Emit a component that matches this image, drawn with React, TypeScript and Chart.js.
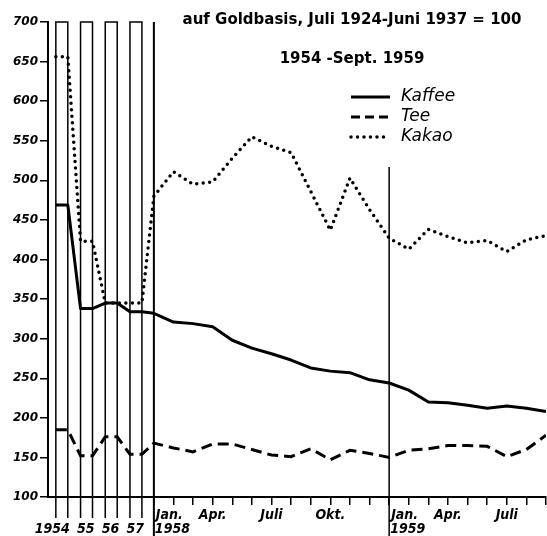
import { useEffect, useRef } from "react";
import { Chart, registerables } from "chart.js";

Chart.register(...registerables);

// ---- data ----
const yearLabels = ["1954", "55", "56", "57"];
const kaffeeYears = [469, 338, 345, 334];
const teeYears = [185, 152, 176, 154];
const kakaoYears = [656, 423, 345, 345];

const monthLabels = ["Jan.", "", "", "Apr.", "", "", "Juli", "", "", "Okt.", "", "", "Jan.", "", "", "Apr.", "", "", "Juli", "", ""];
const janYears = ["1958", "1959"];
const kaffeeMonths = [332, 321, 319, 315, 298, 288, 281, 273, 263, 259, 257, 248, 244, 235, 220, 219, 216, 212, 215, 212, 208];
const teeMonths = [168, 162, 157, 167, 167, 160, 153, 151, 161, 147, 159, 155, 150, 159, 161, 165, 165, 164, 151, 160, 178];
const kakaoMonths = [480, 511, 495, 498, 528, 555, 543, 535, 486, 437, 503, 463, 427, 413, 438, 429, 421, 424, 410, 425, 430];

const seriesNames = ["Kaffee", "Tee", "Kakao"];
const titleLines = ["auf Goldbasis, Juli 1924-Juni 1937 = 100", "1954 -Sept. 1959"];

const Y_MIN = 100;
const Y_MAX = 700;
const Y_STEP = 50;
const JAN59_LINE_TOP = 517;

// ---- layout (x in month units, Jan 1958 = 0) ----
const X_MIN = -5.4;
const X_MAX = 20;
const YEAR_START = -5.0;
const YEAR_STEP = 1.26;
const YEAR_WIDTH = 0.61;

const yearStart = (i: number) => YEAR_START + YEAR_STEP * i;

function buildSeries(yearVals: number[], monthVals: number[]) {
  const pts: { x: number; y: number }[] = [];
  yearVals.forEach((v, i) => {
    pts.push({ x: yearStart(i), y: v });
    pts.push({ x: yearStart(i) + YEAR_WIDTH, y: v });
  });
  monthVals.forEach((v, m) => pts.push({ x: m, y: v }));
  return pts;
}

const LABEL_FONT = "italic bold 14px 'DejaVu Sans Condensed', 'DejaVu Sans'";

const decorPlugin = {
  id: "decor",
  beforeDatasetsDraw(chart: any) {
    const ctx = chart.ctx as CanvasRenderingContext2D;
    const xs = chart.scales.x;
    const ys = chart.scales.y;
    const yTop = ys.getPixelForValue(Y_MAX);
    const yAxis = ys.getPixelForValue(Y_MIN);
    ctx.save();
    ctx.strokeStyle = "#000";
    ctx.lineWidth = 1.5;
    yearLabels.forEach((_, i) => {
      const x1 = xs.getPixelForValue(yearStart(i));
      const x2 = xs.getPixelForValue(yearStart(i) + YEAR_WIDTH);
      ctx.beginPath();
      ctx.moveTo(x1, yAxis + 21);
      ctx.lineTo(x1, yTop);
      ctx.lineTo(x2, yTop);
      ctx.lineTo(x2, yAxis + 21);
      ctx.stroke();
    });
    // Jan 1958 divider
    ctx.lineWidth = 2;
    const xj58 = xs.getPixelForValue(0);
    ctx.beginPath();
    ctx.moveTo(xj58, yTop);
    ctx.lineTo(xj58, chart.height);
    ctx.stroke();
    // Jan 1959 divider
    ctx.lineWidth = 1.5;
    const xj59 = xs.getPixelForValue(12);
    ctx.beginPath();
    ctx.moveTo(xj59, ys.getPixelForValue(JAN59_LINE_TOP));
    ctx.lineTo(xj59, chart.height);
    ctx.stroke();
    ctx.restore();
  },
  afterDraw(chart: any) {
    const ctx = chart.ctx as CanvasRenderingContext2D;
    const xs = chart.scales.x;
    const ys = chart.scales.y;
    const yAxis = ys.getPixelForValue(Y_MIN);
    ctx.save();
    ctx.fillStyle = "#000";
    ctx.textBaseline = "middle";
    ctx.font = LABEL_FONT;
    // year labels under boxes
    yearLabels.forEach((lab, i) => {
      const x2 = xs.getPixelForValue(yearStart(i) + YEAR_WIDTH);
      ctx.textAlign = "right";
      ctx.fillText(lab, x2 + 2, yAxis + 32);
    });
    // month labels
    let janIdx = 0;
    monthLabels.forEach((lab, m) => {
      if (!lab) return;
      const x = xs.getPixelForValue(m);
      if (lab === "Jan.") {
        ctx.textAlign = "left";
        ctx.fillText(lab, x + 2, yAxis + 18);
        ctx.fillText(janYears[janIdx++], x + 1, yAxis + 32);
      } else {
        ctx.textAlign = "center";
        ctx.fillText(lab, x, yAxis + 18);
      }
    });
    // title
    ctx.textAlign = "center";
    ctx.font = "bold 15px 'DejaVu Sans'";
    ctx.fillText(titleLines[0], 352, 20);
    ctx.fillText(titleLines[1], 352, 59);
    // legend
    const dashes = [[], [9, 5], [0, 6.5]];
    const widths = [3, 3, 3.5];
    const caps: CanvasLineCap[] = ["butt", "butt", "round"];
    seriesNames.forEach((name, i) => {
      const y = 97 + i * 20;
      ctx.beginPath();
      ctx.setLineDash(dashes[i]);
      ctx.lineWidth = widths[i];
      ctx.lineCap = caps[i];
      ctx.strokeStyle = "#000";
      ctx.moveTo(351, y);
      ctx.lineTo(390, y);
      ctx.stroke();
      ctx.setLineDash([]);
      ctx.font = "italic 17px 'DejaVu Sans'";
      ctx.textAlign = "left";
      ctx.fillText(name, 401, y);
    });
    ctx.restore();
  },
};

export default function App() {
  const ref = useRef<HTMLCanvasElement | null>(null);
  useEffect(() => {
    document.body.style.margin = "0";
    const canvas = ref.current!;
    const chart = new Chart(canvas, {
      type: "line",
      data: {
        datasets: [
          {
            label: seriesNames[0],
            data: buildSeries(kaffeeYears, kaffeeMonths),
            borderColor: "#000",
            borderWidth: 3,
            borderJoinStyle: "round",
            pointRadius: 0,
          },
          {
            label: seriesNames[1],
            data: buildSeries(teeYears, teeMonths),
            borderColor: "#000",
            borderWidth: 3,
            borderDash: [11, 6],
            pointRadius: 0,
          },
          {
            label: seriesNames[2],
            data: buildSeries(kakaoYears, kakaoMonths),
            borderColor: "#000",
            borderWidth: 3.5,
            borderDash: [0, 6.5],
            borderCapStyle: "round",
            pointRadius: 0,
          },
        ],
      } as any,
      options: {
        animation: false,
        responsive: false,
        layout: { padding: { top: 22, right: 1, left: 0, bottom: 0 } },
        plugins: { legend: { display: false }, tooltip: { enabled: false } },
        elements: { line: { tension: 0 } },
        scales: {
          x: {
            type: "linear",
            min: X_MIN,
            max: X_MAX,
            afterBuildTicks: (s: any) => {
              s.ticks = monthLabels.map((_, i) => ({ value: i }));
            },
            afterFit: (s: any) => {
              s.height = 39;
            },
            ticks: { display: false },
            grid: { drawOnChartArea: false, drawTicks: true, tickLength: 8, color: "#000", lineWidth: 1.5 },
            border: { display: true, color: "#000", width: 2 },
          },
          y: {
            type: "linear",
            min: Y_MIN,
            max: Y_MAX,
            afterFit: (s: any) => {
              s.width = 48;
            },
            ticks: {
              stepSize: Y_STEP,
              color: "#000",
              padding: 2,
              font: { family: "'DejaVu Sans'", size: 12, style: "italic", weight: "bold" },
            },
            grid: { drawOnChartArea: false, drawTicks: true, tickLength: 8, color: "#000", lineWidth: 1.5 },
            border: { display: true, color: "#000", width: 2 },
          },
        },
      } as any,
      plugins: [decorPlugin],
    });
    return () => chart.destroy();
  }, []);
  return <canvas ref={ref} width={547} height={536} style={{ display: "block" }} />;
}
